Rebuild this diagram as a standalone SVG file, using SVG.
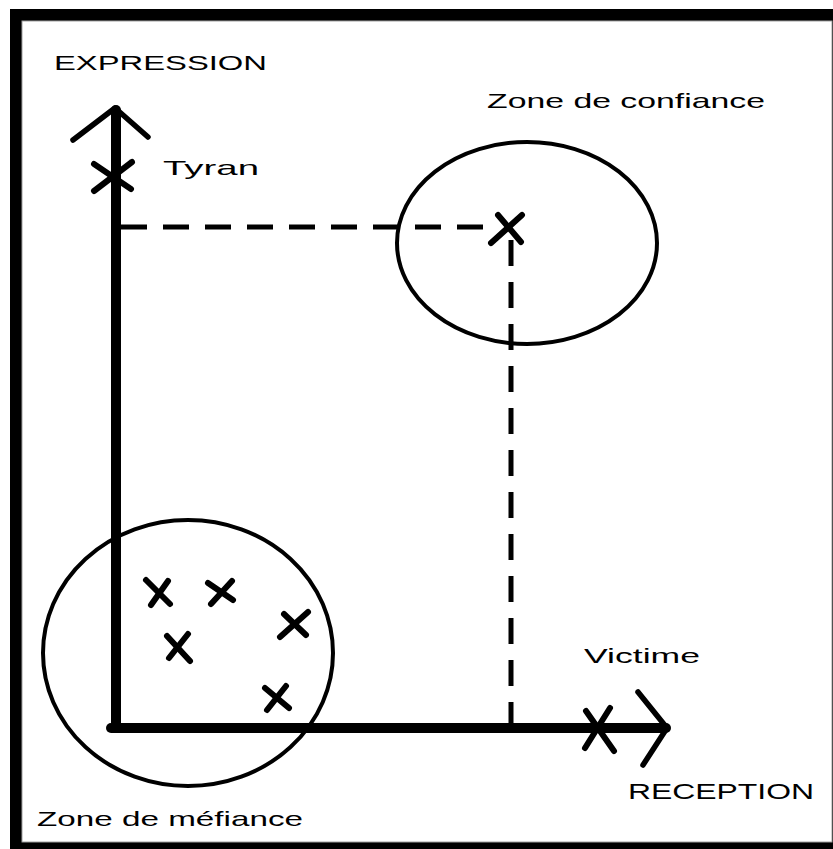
<svg xmlns="http://www.w3.org/2000/svg" width="833" height="849" viewBox="0 0 833 849">
<style>
.lbl{font-family:"Liberation Sans","DejaVu Sans",sans-serif;fill:#000;}
.axis{stroke:#000;stroke-width:10;fill:none;stroke-linecap:round;stroke-linejoin:round;}
.wing{stroke:#000;stroke-width:5.5;fill:none;stroke-linecap:round;stroke-linejoin:round;}
.cross{stroke:#000;stroke-width:6;fill:none;stroke-linecap:round;}
.dash{stroke:#000;stroke-width:5;fill:none;stroke-dasharray:26 16;}
.zone{stroke:#000;stroke-width:4;fill:none;}
</style>
<rect x="0" y="0" width="833" height="849" fill="#fff"/>
<g id="frame">
<rect x="10" y="9" width="823" height="840" fill="#000"/>
<rect x="22" y="21" width="810" height="821" fill="#fff" stroke="#a0a0a0" stroke-width="1"/>
</g>
<g id="connectors">
<line class="axis" x1="116" y1="110" x2="116" y2="728"/>
<line class="axis" x1="111" y1="728" x2="666" y2="728"/>
<polyline class="wing" points="73,140 115,108 148,137"/>
<polyline class="wing" points="638,692 667,728 643,765"/>
<line class="dash" x1="121" y1="227" x2="498" y2="227"/>
<line class="dash" x1="511" y1="240" x2="511" y2="723"/>
</g>
<g id="zone-confiance">
<ellipse class="zone" cx="527" cy="243" rx="130" ry="101"/>
<text class="lbl" x="487" y="108" font-size="21" textLength="278" lengthAdjust="spacingAndGlyphs">Zone de confiance</text>
</g>
<g id="zone-mefiance">
<ellipse class="zone" cx="188" cy="653" rx="145" ry="133"/>
<text class="lbl" x="37" y="826" font-size="21" textLength="266" lengthAdjust="spacingAndGlyphs">Zone de méfiance</text>
</g>
<g id="expression">
<text class="lbl" x="54" y="70" font-size="20" textLength="213" lengthAdjust="spacingAndGlyphs">EXPRESSION</text>
</g>
<g id="reception">
<text class="lbl" x="628" y="799" font-size="22" textLength="186" lengthAdjust="spacingAndGlyphs">RECEPTION</text>
</g>
<g id="tyran">
<line class="cross" x1="94" y1="164" x2="131" y2="189"/>
<line class="cross" x1="132" y1="162" x2="94" y2="191"/>
<text class="lbl" x="163" y="175" font-size="21" textLength="96" lengthAdjust="spacingAndGlyphs">Tyran</text>
</g>
<g id="victime">
<line class="cross" x1="586" y1="711" x2="614" y2="751"/>
<line class="cross" x1="610" y1="708" x2="585" y2="748"/>
<text class="lbl" x="584" y="663" font-size="21" textLength="116" lengthAdjust="spacingAndGlyphs">Victime</text>
</g>
<g id="point-confiance">
<line class="cross" x1="498" y1="215" x2="521" y2="242"/>
<line class="cross" x1="522" y1="215" x2="491" y2="243"/>
</g>
<g id="points-mefiance">
<line class="cross" x1="146" y1="580" x2="170" y2="604"/>
<line class="cross" x1="168" y1="581" x2="151" y2="605"/>
<line class="cross" x1="208" y1="583" x2="233" y2="600"/>
<line class="cross" x1="232" y1="581" x2="211" y2="604"/>
<line class="cross" x1="167" y1="636" x2="190" y2="661"/>
<line class="cross" x1="188" y1="634" x2="169" y2="658"/>
<line class="cross" x1="284" y1="614" x2="306" y2="635"/>
<line class="cross" x1="308" y1="612" x2="280" y2="637"/>
<line class="cross" x1="265" y1="688" x2="289" y2="708"/>
<line class="cross" x1="286" y1="686" x2="267" y2="710"/>
</g>
</svg>
